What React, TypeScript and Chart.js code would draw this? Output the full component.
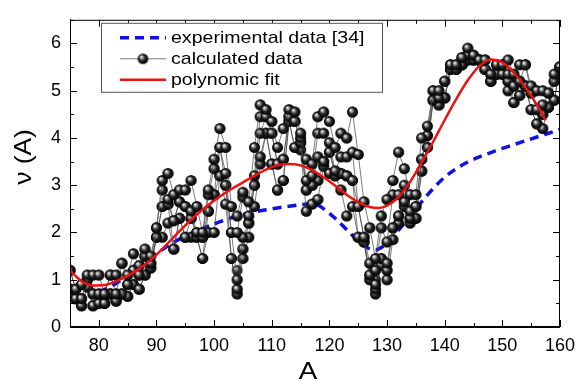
import { useEffect, useRef } from "react";
import { Chart, registerables } from "chart.js";

Chart.register(...registerables);

// ---------- data ----------
const massNumbers = [
  75, 76, 77, 78, 79, 80, 81, 82, 83, 84, 85, 86, 87, 88, 89, 90, 91, 92, 93, 94,
  95, 96, 97, 98, 99, 100, 101, 102, 103, 104, 105, 106, 107, 108, 109, 110, 111,
  112, 113, 114, 115, 116, 117, 118, 119, 120, 121, 122, 123, 124, 125, 126, 127,
  128, 129, 130, 131, 132, 133, 134, 135, 136, 137, 138, 139, 140, 141, 142, 143,
  144, 145, 146, 147, 148, 149, 150, 151, 152, 153, 154, 155, 156, 157, 158, 159, 160,
];

// calculated nu(A) values for each mass number (several fragments per A)
const calcValues: number[][] = [
  [1.2, 0.8], // 75
  [0.8, 0.6], // 76
  [0.9, 0.6, 0.45], // 77
  [1.1, 1.0, 0.85], // 78
  [1.1, 0.7, 0.45], // 79
  [1.1, 0.7, 0.5], // 80
  [0.7, 0.5], // 81
  [1.1, 0.7], // 82
  [1.1, 0.7, 0.55], // 83
  [1.35, 0.7], // 84
  [1.1, 0.9, 0.65], // 85
  [1.55, 1.2, 0.9], // 86
  [1.3, 1.1, 0.8], // 87
  [1.65, 1.5, 1.1], // 88
  [1.5, 1.35, 1.25], // 89
  [2.1, 1.9], // 90
  [3.1, 2.9, 2.55, 1.9], // 91
  [3.25, 2.7, 2.6, 2.2], // 92
  [2.8, 2.25, 1.65], // 93
  [2.9, 2.65, 2.3], // 94
  [2.9, 2.55, 1.9], // 95
  [3.1, 2.45, 2.3, 1.9], // 96
  [2.55, 2.0, 1.9], // 97
  [2.0, 1.9, 1.45], // 98
  [2.9, 2.8, 2.45, 2.0], // 99
  [3.55, 3.35, 2.8, 2.0], // 100
  [4.2, 3.8, 3.2], // 101
  [3.8, 3.25, 3.0, 2.6], // 102
  [2.55, 2.0, 1.45], // 103
  [2.35, 2.0, 1.2, 1.0, 0.8, 0.7], // 104
  [2.85, 2.75, 1.9, 1.65, 1.45], // 105
  [2.65, 2.35, 2.2, 1.9], // 106
  [3.8, 3.2, 3.0, 2.55], // 107
  [4.7, 4.45, 4.1, 3.6, 3.45], // 108
  [4.6, 4.45, 4.1], // 109
  [4.35, 4.1, 3.45], // 110
  [3.8, 3.45, 2.9], // 111
  [4.2, 3.55, 3.1], // 112
  [4.6, 4.45, 4.35], // 113
  [4.55, 4.35, 3.8], // 114
  [4.1, 4.0, 3.9, 3.75], // 115
  [3.55, 3.1, 2.9, 2.45], // 116
  [3.45, 3.2, 3.0, 2.6], // 117
  [4.45, 4.1, 3.6, 3.1, 2.7], // 118
  [4.55, 4.1, 3.5, 3.4], // 119
  [4.35, 3.9, 3.7, 3.25], // 120
  [3.8, 3.3, 3.2], // 121
  [4.1, 3.6, 3.25, 2.9], // 122
  [4.0, 3.6, 3.2, 2.35], // 123
  [4.55, 3.7, 3.1, 2.55], // 124
  [3.65, 2.55, 1.9], // 125
  [2.65, 1.9, 1.8], // 126
  [2.1, 1.35, 1.1, 1.0], // 127
  [1.45, 1.2, 1.0, 0.9, 0.8, 0.7], // 128
  [2.35, 2.1, 1.45, 1.3], // 129
  [2.7, 1.8, 1.35, 1.2, 1.0], // 130
  [3.1, 2.8, 2.1, 1.85], // 131
  [3.7, 2.8, 2.35, 2.2], // 132
  [3.35, 3.0, 2.65, 2.55], // 133
  [2.8, 2.45, 2.3, 2.2], // 134
  [2.8, 2.55, 2.3], // 135
  [4.0, 3.55, 3.3], // 136
  [4.25, 4.05, 3.8], // 137
  [5.0, 4.8], // 138
  [5.0, 4.85, 4.7], // 139
  [5.2, 4.85], // 140
  [5.55, 5.45], // 141
  [5.55, 5.45], // 142
  [5.7, 5.55], // 143
  [5.9, 5.75, 5.65], // 144
  [5.75, 5.65], // 145
  [5.65], // 146
  [5.65, 5.45], // 147
  [5.35, 5.2], // 148
  [5.55, 5.35], // 149
  [5.55, 5.35], // 150
  [5.65, 5.35, 5.2, 5.0], // 151
  [5.35, 5.1, 4.75], // 152
  [5.55, 5.2, 4.9], // 153
  [5.55, 5.1], // 154
  [5.1, 4.95, 4.6], // 155
  [5.0, 4.6, 4.3], // 156
  [5.0, 4.7, 4.5, 4.2], // 157
  [4.95, 4.65], // 158
  [5.35, 5.2, 4.8], // 159
  [5.5], // 160
];

const expA = [
  80, 82, 84, 86, 88, 90, 92, 94, 96, 98, 100, 102, 104, 106, 108, 110, 112, 114,
  116, 117.5, 119, 121, 123, 125, 127, 128, 129, 130, 132, 134, 136, 138, 140, 142,
  144, 146, 148, 150, 152, 154, 156, 158, 160,
];
const expNu = [
  0.75, 0.85, 1.0, 1.18, 1.38, 1.55, 1.72, 1.86, 1.97, 2.08, 2.18, 2.27, 2.35, 2.41,
  2.46, 2.5, 2.54, 2.57, 2.6, 2.6, 2.5, 2.3, 2.06, 1.82, 1.65, 1.63, 1.68, 1.78, 2.05,
  2.35, 2.65, 2.93, 3.17, 3.35, 3.49, 3.6, 3.69, 3.78, 3.86, 3.94, 4.02, 4.1, 4.18,
];

const fitA = [
  75, 77, 79, 81, 83, 85, 87, 89, 91, 93, 95, 97, 99, 101, 103, 105, 107, 109, 111,
  113, 115, 117, 119, 121, 123, 125, 127, 128.5, 130, 132, 134, 136, 138, 140, 142,
  144, 146, 148, 150, 152, 154, 156, 157.5,
];
const fitNu = [
  1.19, 0.97, 0.88, 0.89, 0.97, 1.08, 1.23, 1.42, 1.65, 1.9, 2.15, 2.38, 2.58, 2.76,
  2.92, 3.06, 3.2, 3.33, 3.42, 3.45, 3.42, 3.32, 3.17, 2.99, 2.8, 2.64, 2.54, 2.52,
  2.57, 2.75, 3.07, 3.48, 3.92, 4.38, 4.82, 5.22, 5.52, 5.66, 5.6, 5.38, 5.07, 4.7, 4.37,
];

const xTickValues = [80, 90, 100, 110, 120, 130, 140, 150, 160];
const yTickValues = [0, 1, 2, 3, 4, 5, 6];
const legendLabels = ["experimental data [34]", "calculated data", "polynomic fit"];
const xTitle = "A";
const yTitle = "\u03bd (A)";

// ---------- helpers ----------
const FONT = "'Liberation Sans', Arial, sans-serif";

function makeSphere(r: number): HTMLCanvasElement {
  const size = Math.ceil(r * 2 + 2);
  const c = document.createElement("canvas");
  c.width = size;
  c.height = size;
  const g = c.getContext("2d")!;
  const cx = size / 2;
  const cy = size / 2;
  const grad = g.createRadialGradient(cx - r * 0.35, cy - r * 0.4, r * 0.05, cx, cy, r);
  grad.addColorStop(0, "#ffffff");
  grad.addColorStop(0.22, "#a8a8a8");
  grad.addColorStop(0.55, "#252525");
  grad.addColorStop(1, "#000000");
  g.fillStyle = grad;
  g.beginPath();
  g.arc(cx, cy, r, 0, Math.PI * 2);
  g.fill();
  return c;
}

const BLUE = "#1010e8";
const RED = "#ee1111";
const CALC_LINE = "#444444";

export default function App() {
  const canvasRef = useRef<HTMLCanvasElement | null>(null);

  useEffect(() => {
    document.body.style.margin = "0";
    const canvas = canvasRef.current;
    if (!canvas) return;
    const sphere = makeSphere(5.3);

    // several threads through the fragments of each A, always linking neighbouring A
    const threads = 5;
    const calcSets: any[] = [];
    for (let k = 0; k < threads; k++) {
      const pts: { x: number; y: number }[] = [];
      massNumbers.forEach((a, i) => {
        const vals = calcValues[i];
        const idx = Math.round((k * (vals.length - 1)) / (threads - 1));
        pts.push({ x: a, y: vals[idx] });
      });
      calcSets.push({
        label: k === 0 ? legendLabels[1] : "",
        data: pts,
        showLine: true,
        borderColor: CALC_LINE,
        borderWidth: 0.7,
        pointStyle: k === 0 || true ? sphere : sphere,
        pointRadius: 5,
        tension: 0,
        order: 1,
      });
    }
    // every fragment drawn as a sphere (includes ones not on a thread)
    const allPts: { x: number; y: number }[] = [];
    massNumbers.forEach((a, i) => calcValues[i].forEach((v) => allPts.push({ x: a, y: v })));
    calcSets.push({
      label: "",
      data: allPts,
      showLine: false,
      pointStyle: sphere,
      pointRadius: 5,
      order: 1,
    });

    const framePlugin = {
      id: "frameTicksLegend",
      afterDraw(chart: any) {
        const { ctx, chartArea: ca, scales } = chart;
        const xs = scales.x;
        const ys = scales.y;
        ctx.save();
        ctx.strokeStyle = "#000";
        ctx.lineWidth = 1;
        ctx.strokeRect(ca.left + 0.5, ca.top + 0.5, ca.right - ca.left - 1, ca.bottom - ca.top - 1);
        const seg = (x1: number, y1: number, x2: number, y2: number) => {
          ctx.beginPath();
          ctx.moveTo(x1, y1);
          ctx.lineTo(x2, y2);
          ctx.stroke();
        };
        for (let v = xs.min; v <= xs.max + 1e-6; v += 5) {
          const px = Math.round(xs.getPixelForValue(v)) + 0.5;
          const len = v % 10 === 0 ? 7 : 4;
          seg(px, ca.bottom, px, ca.bottom - len);
          seg(px, ca.top, px, ca.top + len);
        }
        for (let v = ys.min; v <= ys.max + 1e-6; v += 0.5) {
          const py = Math.round(ys.getPixelForValue(v)) + 0.5;
          const len = Math.abs(v - Math.round(v)) < 1e-6 ? 7 : 4;
          seg(ca.left, py, ca.left + len, py);
          seg(ca.right, py, ca.right - len, py);
        }

        // axis titles
        ctx.fillStyle = "#000";
        ctx.textAlign = "center";
        ctx.textBaseline = "middle";
        ctx.font = `24px ${FONT}`;
        ctx.save();
        ctx.translate((ca.left + ca.right) / 2 - 7, 372);
        ctx.scale(1.15, 1);
        ctx.fillText(xTitle, 0, 0);
        ctx.restore();
        ctx.save();
        ctx.translate(24, 157);
        ctx.rotate(-Math.PI / 2);
        ctx.scale(1.1, 1);
        ctx.fillText(yTitle, 0, 0);
        ctx.restore();

        // legend
        const bx = ca.left + 31;
        const by = ca.top + 3;
        const bw = 281;
        const bh = 69;
        ctx.fillStyle = "#fff";
        ctx.fillRect(bx, by, bw, bh);
        ctx.strokeStyle = "#555";
        ctx.lineWidth = 1;
        ctx.strokeRect(bx + 0.5, by + 0.5, bw, bh);
        const rows = [by + 15, by + 36, by + 57];
        const l1 = bx + 19;
        const l2 = bx + 65;
        ctx.strokeStyle = BLUE;
        ctx.lineWidth = 3.5;
        ctx.setLineDash([9, 6]);
        seg(l1, rows[0], l2, rows[0]);
        ctx.setLineDash([]);
        ctx.strokeStyle = CALC_LINE;
        ctx.lineWidth = 0.7;
        seg(l1, rows[1], l2, rows[1]);
        ctx.drawImage(sphere, (l1 + l2) / 2 - sphere.width / 2, rows[1] - sphere.height / 2);
        ctx.strokeStyle = RED;
        ctx.lineWidth = 2.5;
        seg(l1, rows[2], l2, rows[2]);

        ctx.fillStyle = "#000";
        ctx.font = `17px ${FONT}`;
        ctx.textAlign = "left";
        ctx.textBaseline = "middle";
        legendLabels.forEach((t, i) => {
          ctx.save();
          ctx.translate(bx + 70, rows[i] + 1);
          ctx.scale(1.15, 1);
          ctx.fillText(t, 0, 0);
          ctx.restore();
        });
        ctx.restore();
      },
    };

    const chart = new Chart(canvas, {
      type: "scatter",
      data: {
        datasets: [
          {
            label: legendLabels[2],
            data: fitA.map((a, i) => ({ x: a, y: fitNu[i] })),
            showLine: true,
            borderColor: RED,
            borderWidth: 2.5,
            pointRadius: 0,
            cubicInterpolationMode: "monotone",
            order: 0,
          },
          ...calcSets,
          {
            label: legendLabels[0],
            data: expA.map((a, i) => ({ x: a, y: expNu[i] })),
            showLine: true,
            borderColor: BLUE,
            borderWidth: 3.5,
            borderDash: [9, 6],
            pointRadius: 0,
            cubicInterpolationMode: "monotone",
            order: 2,
          },
        ],
      },
      options: {
        animation: false,
        responsive: false,
        devicePixelRatio: 1,
        layout: { padding: { top: 14, right: 19, left: 0, bottom: 0 } },
        plugins: {
          legend: { display: false },
          tooltip: { enabled: false },
          title: { display: false },
        },
        scales: {
          x: {
            type: "linear",
            min: 75,
            max: 160,
            afterFit: (s: any) => {
              s.height = 60;
            },
            afterBuildTicks: (s: any) => {
              s.ticks = xTickValues.map((v) => ({ value: v }));
            },
            grid: { display: false, drawTicks: false },
            border: { display: true, color: "#000", width: 1 },
            ticks: {
              color: "#000",
              padding: 8,
              maxRotation: 0,
              autoSkip: false,
              font: { family: FONT, size: 18 },
            },
          },
          y: {
            type: "linear",
            min: 0,
            max: 6.5,
            afterFit: (s: any) => {
              s.width = 70;
            },
            afterBuildTicks: (s: any) => {
              s.ticks = yTickValues.map((v) => ({ value: v }));
            },
            grid: { display: false, drawTicks: false },
            border: { display: true, color: "#000", width: 1 },
            ticks: {
              color: "#000",
              padding: 9,
              autoSkip: false,
              font: { family: FONT, size: 18 },
            },
          },
        },
      },
      plugins: [framePlugin],
    } as any);

    return () => chart.destroy();
  }, []);

  return (
    <div style={{ width: 583, height: 387 }}>
      <canvas ref={canvasRef} width={583} height={387} style={{ display: "block" }} />
    </div>
  );
}
